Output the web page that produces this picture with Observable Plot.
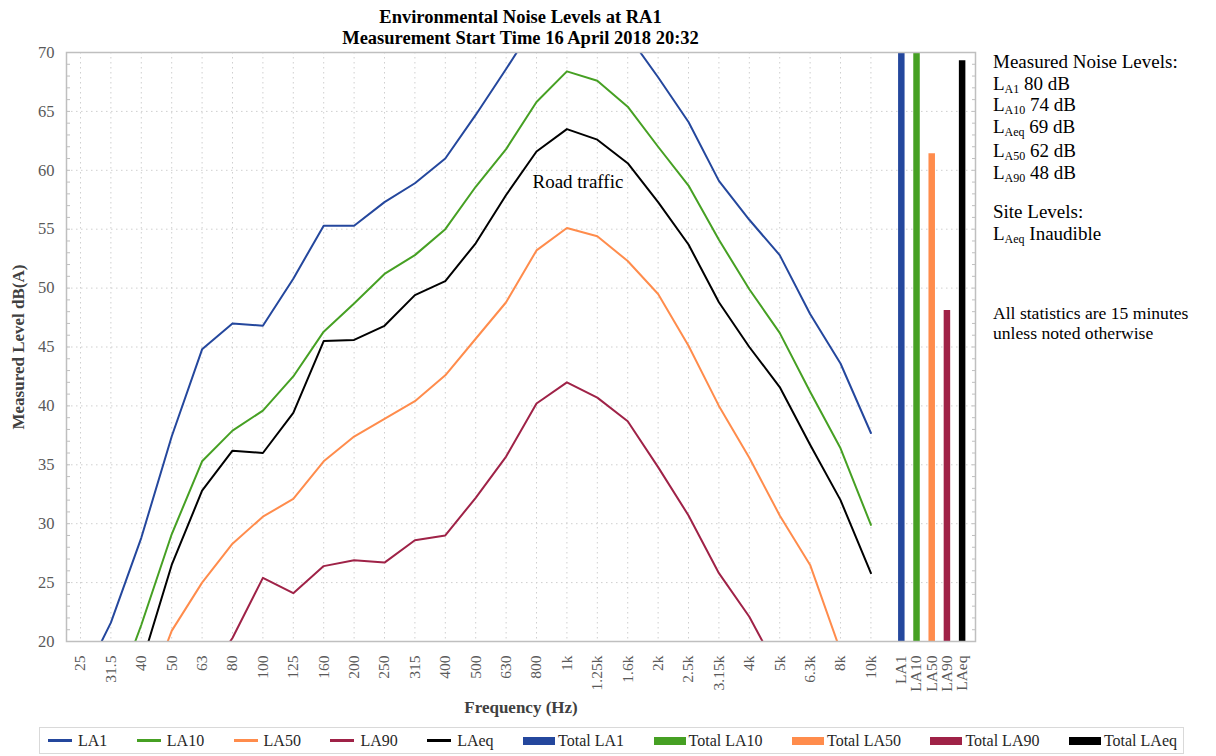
<!DOCTYPE html>
<html><head><meta charset="utf-8">
<script src="https://cdn.jsdelivr.net/npm/d3@7"></script>
<script src="https://cdn.jsdelivr.net/npm/@observablehq/plot@0.6"></script>
<style>
body{margin:0;background:#fff;}
#wrap{position:relative;width:1216px;height:756px;overflow:hidden;font-family:"Liberation Serif",serif;color:#000;}
#wrap svg{position:absolute;left:0;top:0;}
.title{position:absolute;left:0;top:7px;width:1041px;text-align:center;font-weight:bold;font-size:18.5px;line-height:21px;}
.side{position:absolute;left:993px;font-size:19px;line-height:18px;white-space:nowrap;}
.side.note{font-size:17.6px;line-height:20px;}
.side sub{font-size:12px;vertical-align:baseline;position:relative;top:3px;line-height:0;}
.ytitle{position:absolute;left:19px;top:347px;transform:translate(-50%,-50%) rotate(-90deg);font-weight:bold;font-size:17px;color:#404040;white-space:nowrap;}
.xtitle{position:absolute;left:521px;top:708px;transform:translate(-50%,-50%);font-weight:bold;font-size:17px;color:#404040;white-space:nowrap;}
.legend{position:absolute;left:39px;top:727px;width:1145px;height:27px;box-sizing:border-box;border:1px solid #d9d9d9;display:flex;justify-content:space-between;align-items:center;padding:0 6px 0 8px;font-size:16px;color:#262626;}
.legend .item{display:flex;align-items:center;white-space:nowrap;}
.legend .ln{display:inline-block;width:24px;height:2.5px;margin-right:6px;}
.legend .sq{display:inline-block;width:32px;height:8px;margin-right:3px;}
</style></head><body><div id="wrap"></div>
<script>
// ---- data ----
const freqLabels = ["25","31.5","40","50","63","80","100","125","160","200","250","315","400","500","630","800","1k","1.25k","1.6k","2k","2.5k","3.15k","4k","5k","6.3k","8k","10k"];
const totalLabels = ["LA1","LA10","LA50","LA90","LAeq"];
const seriesNames = ["LA1","LA10","LA50","LA90","LAeq"];
const LA1  = [16.4,21.6,28.8,37.4,44.8,47.0,46.8,50.8,55.3,55.3,57.3,58.9,61.0,64.7,68.6,72.6,74.3,73.3,71.5,67.9,64.1,59.1,55.8,52.8,47.8,43.6,37.7];
const LA10 = [9.0,14.4,21.4,29.1,35.3,37.9,39.6,42.5,46.3,48.7,51.2,52.8,55.0,58.6,61.8,65.8,68.4,67.6,65.4,62.0,58.7,54.1,49.9,46.2,41.2,36.4,29.9];
const LA50 = [5.0,9.0,14.1,20.9,25.0,28.3,30.6,32.1,35.3,37.4,38.9,40.4,42.6,45.7,48.8,53.2,55.1,54.4,52.3,49.5,45.1,40.0,35.6,30.7,26.5,19.2,12.0];
const LA90 = [2.0,4.0,8.0,12.0,16.4,20.3,25.4,24.1,26.4,26.9,26.7,28.6,29.0,32.2,35.7,40.2,42.0,40.7,38.7,34.8,30.7,25.8,22.1,17.3,13.0,9.0,5.0];
const LAeq = [7.0,12.0,18.0,26.5,32.8,36.2,36.0,39.4,45.5,45.6,46.8,49.4,50.6,53.8,57.9,61.6,63.5,62.6,60.6,57.3,53.7,48.8,45.0,41.6,36.7,32.0,25.8];
const totalValues = [80, 74, 61.4, 48.1, 69.3];
const measuredNames = ["A1","A10","Aeq","A50","A90"];
const measuredValues = [80, 74, 69, 62, 48];
const annotations = [{label:"Road traffic", at:"1k", level:59}];
const yTicks = [20,25,30,35,40,45,50,55,60,65,70];

// ---- layout / style ----
const colors = ["#24479d","#46a023","#ff8c4c","#9f2247","#000000"];
const bandIdx = freqLabels.map((_, i) => i);
const totalIdx = totalLabels.map((_, k) => bandIdx.length + k * 0.5);
const tickVals = [...bandIdx, ...totalIdx];
const tickText = new Map(tickVals.map((v, i) => [v, [...freqLabels, ...totalLabels][i]]));
const seriesValues = [LA1, LA10, LA50, LA90, LAeq];
const rows = seriesNames.flatMap((s, k) => seriesValues[k].map((v, i) => ({s, i, v})));
const bars = totalLabels.map((s, k) => ({s, x: totalIdx[k], v: totalValues[k]}));

const wrap = document.getElementById("wrap");
const chart = Plot.plot({
  width: 1216, height: 756,
  marginLeft: 66, marginRight: 241, marginTop: 52, marginBottom: 115,
  x: {domain: [-0.46, 29.44], axis: null},
  y: {domain: [20, 70], axis: null},
  color: {domain: seriesNames, range: colors},
  style: {fontFamily: "Liberation Serif", background: "white", overflow: "visible"},
  marks: [
    Plot.ruleX(bandIdx, {x: d => d, stroke: "#cfcfcf", strokeDasharray: "1.5,3.5"}),
    Plot.ruleY(yTicks.slice(1, -1), {y: d => d, stroke: "#cfcfcf", strokeDasharray: "1.5,3.5"}),
    Plot.ruleX(bars, {x: "x", y1: 20, y2: "v", stroke: "s", strokeWidth: 6.5, clip: true}),
    Plot.line(rows, {x: "i", y: "v", z: "s", stroke: "s", strokeWidth: 2, clip: true}),
    Plot.text(annotations, {x: d => freqLabels.indexOf(d.at), y: "level", text: "label", dx: 11, fontSize: 19, fill: "black"}),
    Plot.frame({stroke: "#bfbfbf", strokeWidth: 1.5}),
    Plot.axisY({anchor: "left", ticks: d3.range(20, 71, 1), tickSize: -4, tickFormat: () => "", color: "#bfbfbf", label: null}),
    Plot.axisY({anchor: "right", ticks: d3.range(20, 71, 1), tickSize: -4, tickFormat: () => "", color: "#bfbfbf", label: null}),
    Plot.axisY({anchor: "left", ticks: yTicks, tickSize: 0, tickPadding: 12, fontSize: 16.5, color: "#595959", label: null}),
    Plot.axisX({ticks: tickVals, tickFormat: v => tickText.get(v), tickRotate: -90, tickSize: 0, tickPadding: 14, fontSize: 15.5, color: "#595959", label: null})
  ]
});
wrap.appendChild(chart);

// title
const t = document.createElement("div");
t.className = "title";
t.innerHTML = "Environmental Noise Levels at RA1<br>Measurement Start Time 16 April 2018 20:32";
wrap.appendChild(t);

// side notes
const sideLines = [
  "Measured Noise Levels:",
  ...measuredNames.map((n, k) => `L<sub>${n}</sub> ${measuredValues[k]} dB`),
  "Site Levels:",
  "L<sub>Aeq</sub> Inaudible"
];
const sideCenters = [62, 84, 105, 127, 151, 173, 212, 234];
sideLines.forEach((h, k) => {
  const d = document.createElement("div");
  d.className = "side";
  d.style.top = (sideCenters[k] - 9) + "px";
  d.innerHTML = h;
  wrap.appendChild(d);
});
const note = document.createElement("div");
note.className = "side note";
note.style.top = "303px";
note.innerHTML = "All statistics are 15 minutes<br>unless noted otherwise";
wrap.appendChild(note);

// axis titles
const yt = document.createElement("div"); yt.className = "ytitle"; yt.textContent = "Measured Level dB(A)"; wrap.appendChild(yt);
const xt = document.createElement("div"); xt.className = "xtitle"; xt.textContent = "Frequency (Hz)"; wrap.appendChild(xt);

// legend
const lg = document.createElement("div");
lg.className = "legend";
seriesNames.forEach((s, k) => {
  const it = document.createElement("div"); it.className = "item";
  it.innerHTML = `<span class="ln" style="background:${colors[k]}"></span>${s}`;
  lg.appendChild(it);
});
totalLabels.forEach((s, k) => {
  const it = document.createElement("div"); it.className = "item";
  it.innerHTML = `<span class="sq" style="background:${colors[k]}"></span>Total ${s}`;
  lg.appendChild(it);
});
wrap.appendChild(lg);
</script>
</body></html>
